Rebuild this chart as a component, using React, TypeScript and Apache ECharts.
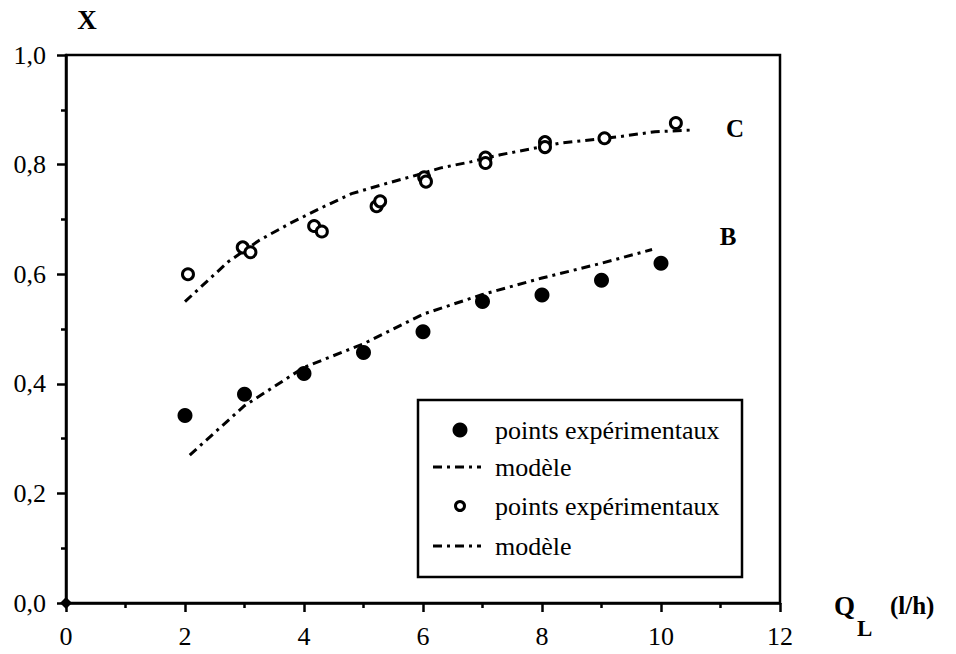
import React, { useEffect, useRef } from "react";
import * as echarts from "echarts";

// Filled points (curve B)
const bPoints: number[][] = [
  [2, 0.342], [3, 0.381], [4, 0.419], [5, 0.457], [6, 0.495],
  [7, 0.55], [8, 0.562], [9, 0.589], [10, 0.62],
];
// Model curve B
const bModel: number[][] = [
  [2.08, 0.27], [3, 0.36], [4, 0.43], [5, 0.473], [6, 0.527],
  [7, 0.563], [8, 0.593], [9, 0.62], [9.85, 0.645],
];
// Open points (curve C)
const cPoints: number[][] = [
  [2.05, 0.6], [2.97, 0.649], [3.1, 0.64], [4.17, 0.688], [4.3, 0.678],
  [5.22, 0.724], [5.28, 0.733], [6.02, 0.777], [6.05, 0.769],
  [7.05, 0.813], [7.05, 0.803], [8.05, 0.841], [8.05, 0.832],
  [9.05, 0.848], [10.25, 0.876],
];
// Model curve C
const cModel: number[][] = [
  [2.0, 0.55], [2.73, 0.623], [3.25, 0.662], [3.77, 0.693], [4.27, 0.72],
  [4.8, 0.747], [5.4, 0.766], [5.9, 0.781], [6.3, 0.794], [6.8, 0.805],
  [7.3, 0.818], [8.3, 0.839], [9.3, 0.851], [9.9, 0.86], [10.5, 0.863],
];
const origin: number[][] = [[0, 0]];

const curveLabels = ["C", "B"];
const legendTexts = ["points expérimentaux", "modèle", "points expérimentaux", "modèle"];

const FONT = "Liberation Serif";
const DASH = [9, 5, 3, 5];

export default function App() {
  const ref = useRef<HTMLDivElement>(null);
  useEffect(() => {
    if (!ref.current) return;
    const chart = echarts.init(ref.current, undefined, { renderer: "svg" });
    const lx = 418, ly = 400;
    const rowY = [430, 467, 506, 546];
    const txt = (text: string, x: number, y: number, size: number, bold: boolean, align = "left") => ({
      type: "text", x, y,
      style: { text, fontFamily: FONT, fontSize: size, fontWeight: bold ? "bold" : "normal", fill: "#000", align, verticalAlign: "middle" },
    });
    chart.setOption({
      animation: false,
      backgroundColor: "#fff",
      textStyle: { fontFamily: FONT },
      grid: { left: 66, right: 176, top: 55, bottom: 51, show: true, borderColor: "#000", borderWidth: 2.5 },
      xAxis: {
        type: "value", min: 0, max: 12, interval: 2,
        axisLine: { show: true, lineStyle: { color: "#000", width: 2.5 } },
        axisTick: { show: true, length: 9, lineStyle: { color: "#000", width: 2.5 } },
        minorTick: { show: true, splitNumber: 2, length: 5, lineStyle: { color: "#000", width: 2.5 } },
        splitLine: { show: false },
        axisLabel: { color: "#000", fontFamily: FONT, fontSize: 26, margin: 20 },
      },
      yAxis: {
        type: "value", min: 0, max: 1, interval: 0.2,
        axisLine: { show: true, lineStyle: { color: "#000", width: 2.5 } },
        axisTick: { show: true, length: 9, lineStyle: { color: "#000", width: 2.5 } },
        minorTick: { show: true, splitNumber: 2, length: 5, lineStyle: { color: "#000", width: 2.5 } },
        splitLine: { show: false },
        axisLabel: {
          color: "#000", fontFamily: FONT, fontSize: 26, margin: 20,
          formatter: (v: number) => v.toFixed(1).replace(".", ","),
        },
      },
      series: [
        {
          name: "modèle B", type: "line", data: bModel, showSymbol: false, symbol: "none",
          lineStyle: { color: "#000", width: 3, type: DASH, opacity: 1 }, z: 2,
        },
        {
          name: "modèle C", type: "line", data: cModel, showSymbol: false, symbol: "none",
          lineStyle: { color: "#000", width: 3, type: DASH, opacity: 1 }, z: 2,
        },
        {
          name: "points expérimentaux B", type: "scatter", data: bPoints, symbol: "circle", symbolSize: 15,
          itemStyle: { color: "#000", opacity: 1 }, z: 3,
        },
        {
          name: "points expérimentaux C", type: "scatter", data: cPoints, symbol: "circle", symbolSize: 11,
          itemStyle: { color: "#fff", borderColor: "#000", borderWidth: 3, opacity: 1 }, z: 3,
        },
        {
          name: "origine", type: "scatter", data: origin, symbol: "diamond", symbolSize: 12,
          itemStyle: { color: "#000", opacity: 1 }, z: 4,
        },
      ],
      graphic: [
        txt("X", 87, 20, 27, true, "center"),
        txt(curveLabels[0], 735, 128, 25, true, "center"),
        txt(curveLabels[1], 728, 236, 25, true, "center"),
        txt("Q", 834, 606, 27, true),
        txt("L", 857, 628, 23, true),
        txt("(l/h)", 890, 605, 25, true),
        {
          type: "group", z: 100,
          children: [
            { type: "rect", shape: { x: lx, y: ly, width: 324, height: 177 }, style: { fill: "#fff", stroke: "#000", lineWidth: 2.5 } },
            { type: "circle", shape: { cx: 460, cy: rowY[0], r: 7.5 }, style: { fill: "#000" } },
            { type: "line", shape: { x1: 433, y1: rowY[1], x2: 481, y2: rowY[1] }, style: { stroke: "#000", lineWidth: 3, lineDash: DASH } },
            { type: "circle", shape: { cx: 460, cy: rowY[2], r: 4.5 }, style: { fill: "#fff", stroke: "#000", lineWidth: 3 } },
            { type: "line", shape: { x1: 433, y1: rowY[3], x2: 481, y2: rowY[3] }, style: { stroke: "#000", lineWidth: 3, lineDash: DASH } },
            ...legendTexts.map((t, i) => txt(t, 495, rowY[i], 26, false)),
          ],
        },
      ],
    });
    return () => chart.dispose();
  }, []);
  return <div ref={ref} style={{ width: 956, height: 654, position: "absolute", left: 0, top: 0 }} />;
}
